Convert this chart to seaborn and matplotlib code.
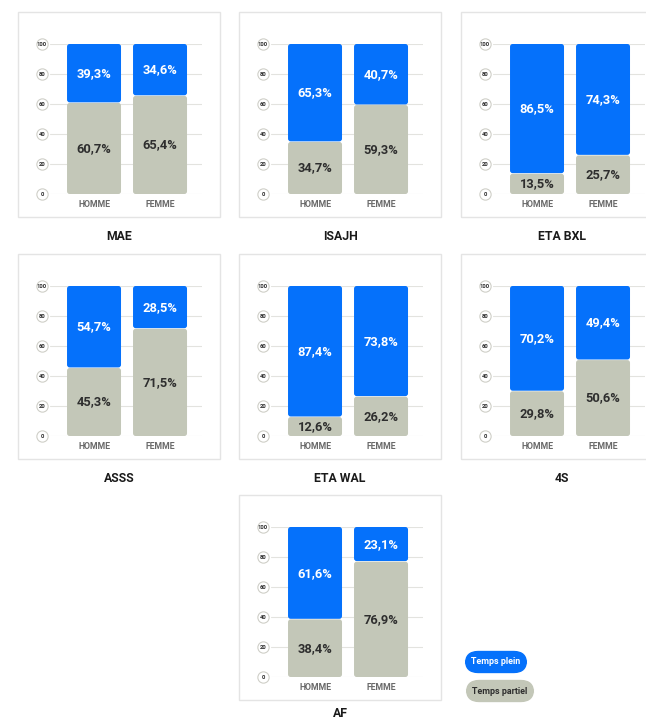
import matplotlib
matplotlib.use("Agg")
import matplotlib.pyplot as plt
from matplotlib.patches import FancyBboxPatch, Rectangle
import seaborn as sns
import pandas as pd

# Data: share of full-time / part-time work by sex, per sector
sectors = ["MAE", "ISAJH", "ETA BXL", "ASSS", "ETA WAL", "4S", "AF"]
sexes = ["HOMME", "FEMME"]
plein_mae = [39.3, 34.6]
partiel_mae = [60.7, 65.4]
plein_isajh = [65.3, 40.7]
partiel_isajh = [34.7, 59.3]
plein_eta_bxl = [86.5, 74.3]
partiel_eta_bxl = [13.5, 25.7]
plein_asss = [54.7, 28.5]
partiel_asss = [45.3, 71.5]
plein_eta_wal = [87.4, 73.8]
partiel_eta_wal = [12.6, 26.2]
plein_4s = [70.2, 49.4]
partiel_4s = [29.8, 50.6]
plein_af = [61.6, 23.1]
partiel_af = [38.4, 76.9]
y_ticks = [0, 20, 40, 60, 80, 100]
legend_labels = ["Temps plein", "Temps partiel"]

plein = [plein_mae, plein_isajh, plein_eta_bxl, plein_asss, plein_eta_wal, plein_4s, plein_af]
partiel = [partiel_mae, partiel_isajh, partiel_eta_bxl, partiel_asss, partiel_eta_wal, partiel_4s, partiel_af]

BLUE = "#0571fb"
GRAY = "#c3c7b8"
DARK = "#2e2e2e"
GRID = "#e3e3df"
FRAME = "#e4e4e4"

sns.set_theme(style="white")
plt.rcParams["font.family"] = ["Roboto", "DejaVu Sans"]
plt.rcParams["font.weight"] = "bold"

W, H = 646, 721
fig = plt.figure(figsize=(W / 100, H / 100), dpi=100)
fig.patch.set_facecolor("white")


def rect(left, top, right, bottom):
    return [left / W, 1 - bottom / H, (right - left) / W, (bottom - top) / H]


col_off = [0, 221, 443]
row_off = [0, 242, 483]
grid_pos = [(0, 0), (1, 0), (2, 0), (0, 1), (1, 1), (2, 1), (1, 2)]

for name, pl, pa, (c, r) in zip(sectors, plein, partiel, grid_pos):
    dx, dy = col_off[c], row_off[r]

    # panel frame
    fig.patches.append(Rectangle(((18 + dx) / W, 1 - (217 + dy) / H), 202 / W, 205 / H,
                                 transform=fig.transFigure, facecolor="none",
                                 edgecolor=FRAME, lw=1.0, zorder=0))

    ax = fig.add_axes(rect(50 + dx, 44 + dy, 202 + dx, 194 + dy))
    df = pd.DataFrame({"sexe": sexes, "plein": pl, "partiel": pa})
    df["total"] = df["plein"] + df["partiel"]

    sns.barplot(data=df, x="sexe", y="total", color=BLUE, width=0.818,
                saturation=1, ax=ax, zorder=3)
    n_blue = len(ax.patches)
    sns.barplot(data=df, x="sexe", y="partiel", color=GRAY, width=0.818,
                saturation=1, ax=ax, zorder=4)

    # swap square bars for slightly rounded ones, keeping each segment separate
    bars = list(ax.patches)
    for k, p in enumerate(bars):
        x0, w = p.get_x(), p.get_width()
        if k < n_blue:
            y0, h = df["partiel"].iloc[k] + 0.4, df["plein"].iloc[k] - 0.4
            fc = BLUE
        else:
            y0, h = 0, df["partiel"].iloc[k - n_blue]
            fc = GRAY
        p.remove()
        fb = FancyBboxPatch((x0, y0), w, h,
                            boxstyle="round,pad=0,rounding_size=0.04",
                            mutation_aspect=45, facecolor=fc, edgecolor="none",
                            zorder=3)
        ax.add_patch(fb)

    for i in range(len(sexes)):
        ax.text(i, df["partiel"].iloc[i] + df["plein"].iloc[i] / 2,
                f"{df['plein'].iloc[i]:.1f}%".replace(".", ","),
                ha="center", va="center", color="white", fontsize=9.3,
                fontweight="bold", zorder=5)
        ax.text(i, df["partiel"].iloc[i] / 2,
                f"{df['partiel'].iloc[i]:.1f}%".replace(".", ","),
                ha="center", va="center", color=DARK, fontsize=9.3,
                fontweight="bold", zorder=5)

    ax.set_xlim(-0.667, 1.636)
    ax.set_ylim(0, 100)
    ax.set_yticks(y_ticks)
    ax.set_yticklabels([str(t) for t in y_ticks], fontsize=4.2, color=DARK,
                       ha="center", fontweight="bold")
    ax.tick_params(axis="y", length=0, pad=5.8)
    ax.tick_params(axis="x", length=0, pad=4, labelsize=6.3, labelcolor="#6a6a6a")
    for lab in ax.get_xticklabels():
        lab.set_fontweight("bold")
    ax.set_xlabel("")
    ax.set_ylabel("")
    ax.grid(axis="y", color=GRID, lw=0.8)
    ax.grid(axis="x", visible=False)
    for s in ax.spines.values():
        s.set_visible(False)
    ax.set_facecolor("none")

    # circular badges behind the y tick labels
    ax.scatter([-8 / 152] * len(y_ticks), y_ticks, s=66, marker="o",
               facecolor="white", edgecolor="#cfcfc8", lw=0.8,
               transform=ax.get_yaxis_transform(), clip_on=False, zorder=0.2)

    title_y = 240 + dy if r < 2 else 717
    fig.text((119 + dx) / W, 1 - title_y / H, name, ha="center", va="baseline",
             fontsize=8.8, fontweight="bold", color="#1a1a1a")

# legend pills
fig.text(496 / W, 1 - 662 / H, legend_labels[0], ha="center", va="center",
         fontsize=6.4, fontweight="bold", color="white",
         bbox=dict(boxstyle="round,pad=0.75,rounding_size=1.5", fc=BLUE, ec="none"))
fig.text(500 / W, 1 - 691 / H, legend_labels[1], ha="center", va="center",
         fontsize=6.4, fontweight="bold", color=DARK,
         bbox=dict(boxstyle="round,pad=0.75,rounding_size=1.5", fc=GRAY, ec="none"))

fig.savefig("out.png", dpi=100, facecolor="white")
